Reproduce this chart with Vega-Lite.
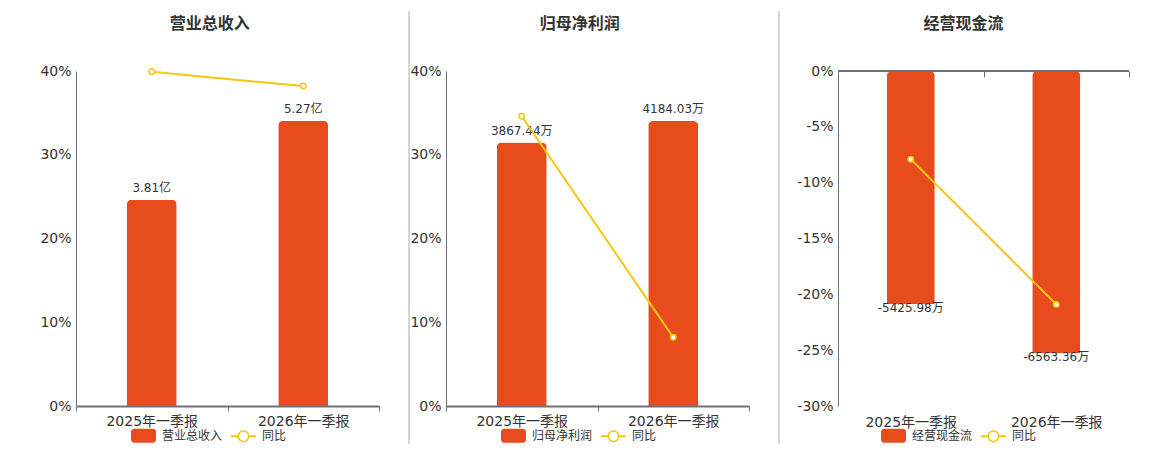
{
  "$schema": "https://vega.github.io/schema/vega-lite/v6.json",
  "background": "white",
  "padding": {"left": 39, "top": 10, "right": 0, "bottom": 0},
  "spacing": 0,
  "bounds": "flush",
  "datasets": {
    "rev": [
      {"period": "2025年一季报", "value": 3.81, "label": "3.81亿", "yoy": 39.9},
      {"period": "2026年一季报", "value": 5.27, "label": "5.27亿", "yoy": 38.2}
    ],
    "np": [
      {"period": "2025年一季报", "value": 3867.44, "label": "3867.44万", "yoy": 34.6},
      {"period": "2026年一季报", "value": 4184.03, "label": "4184.03万", "yoy": 8.2}
    ],
    "cf": [
      {"period": "2025年一季报", "value": -5425.98, "label": "-5425.98万", "yoy": -7.9},
      {"period": "2026年一季报", "value": -6563.36, "label": "-6563.36万", "yoy": -20.9}
    ],
    "sep": [{"name": "divider"}]
  },
  "hconcat": [
    {
      "width": 303,
      "height": 335,
      "title": {"text": "营业总收入"},
      "data": {"name": "rev"},
      "layer": [
        {
          "mark": {"type": "bar", "width": {"band": 0.33}, "cornerRadiusEnd": 5},
          "encoding": {
            "x": {"field": "period", "type": "nominal", "sort": null, "scale": {"paddingInner": 0, "paddingOuter": 0}, "axis": {"domainWidth": 2, "ticks": true}},
            "y": {"field": "value", "type": "quantitative", "scale": {"domain": [0, 6.19]}, "axis": null},
            "color": {
              "datum": "营业总收入", "type": "nominal",
              "scale": {"domain": ["营业总收入", "同比"], "range": ["#E84C1D", "#F5C710"]},
              "legend": {
                "orient": "none", "legendX": 55, "legendY": 352, "symbolSize": 625, "columnPadding": 8, "labelOffset": 6,
                "encode": {
                  "symbols": {
                    "update": {
                      "shape": {"signal": "datum.value === '同比' ? 'M-1,-0.08H-0.46V0.08H-1ZM0.46,-0.08H1V0.08H0.46ZM0.48,0A0.48,0.48,0,1,1,-0.48,0A0.48,0.48,0,1,1,0.48,0ZM0.36,0A0.36,0.36,0,1,0,-0.36,0A0.36,0.36,0,1,0,0.36,0Z' : 'M-0.76,-0.56H0.76A0.24,0.24,0,0,1,1,-0.32V0.32A0.24,0.24,0,0,1,0.76,0.56H-0.76A0.24,0.24,0,0,1,-1,0.32V-0.32A0.24,0.24,0,0,1,-0.76,-0.56Z'"},
                      "fillOpacity": {"value": 1},
                      "strokeWidth": {"value": 0},
                      "opacity": {"value": 1}
                    }
                  }
                }
              }
            }
          }
        },
        {
          "mark": {"type": "text", "baseline": "bottom", "dy": -5, "fontSize": 12, "color": "#333333"},
          "encoding": {
            "x": {"field": "period", "type": "nominal", "sort": null},
            "y": {"field": "value", "type": "quantitative", "scale": {"domain": [0, 6.19]}, "axis": null},
            "text": {"field": "label"}
          }
        },
        {
          "mark": {"type": "line", "strokeWidth": 2, "point": {"filled": false, "fill": "white", "size": 30, "strokeWidth": 1.5}},
          "encoding": {
            "x": {"field": "period", "type": "nominal", "sort": null},
            "y": {"field": "yoy", "type": "quantitative", "scale": {"domain": [0, 40]}, "axis": {"values": [0, 10, 20, 30, 40], "labelExpr": "datum.value + '%'"}},
            "color": {"datum": "同比", "type": "nominal"}
          }
        }
      ],
      "resolve": {"scale": {"y": "independent"}}
    },
    {
      "width": 67,
      "height": 335,
      "data": {"name": "sep"},
      "mark": {"type": "rule", "color": "#AAAAAA", "strokeWidth": 1},
      "encoding": {
        "x": {"datum": 0.448, "type": "quantitative", "scale": {"domain": [0, 1]}, "axis": null},
        "y": {"datum": 1.179, "type": "quantitative", "scale": {"domain": [0, 1]}, "axis": null},
        "y2": {"datum": -0.113}
      }
    },
    {
      "width": 303,
      "height": 335,
      "title": {"text": "归母净利润"},
      "data": {"name": "np"},
      "layer": [
        {
          "mark": {"type": "bar", "width": {"band": 0.33}, "cornerRadiusEnd": 5},
          "encoding": {
            "x": {"field": "period", "type": "nominal", "sort": null, "scale": {"paddingInner": 0, "paddingOuter": 0}, "axis": {"domainWidth": 2, "ticks": true}},
            "y": {"field": "value", "type": "quantitative", "scale": {"domain": [0, 4919]}, "axis": null},
            "color": {
              "datum": "归母净利润", "type": "nominal",
              "scale": {"domain": ["归母净利润", "同比"], "range": ["#E84C1D", "#F5C710"]},
              "legend": {
                "orient": "none", "legendX": 55, "legendY": 352, "symbolSize": 625, "columnPadding": 8, "labelOffset": 6,
                "encode": {
                  "symbols": {
                    "update": {
                      "shape": {"signal": "datum.value === '同比' ? 'M-1,-0.08H-0.46V0.08H-1ZM0.46,-0.08H1V0.08H0.46ZM0.48,0A0.48,0.48,0,1,1,-0.48,0A0.48,0.48,0,1,1,0.48,0ZM0.36,0A0.36,0.36,0,1,0,-0.36,0A0.36,0.36,0,1,0,0.36,0Z' : 'M-0.76,-0.56H0.76A0.24,0.24,0,0,1,1,-0.32V0.32A0.24,0.24,0,0,1,0.76,0.56H-0.76A0.24,0.24,0,0,1,-1,0.32V-0.32A0.24,0.24,0,0,1,-0.76,-0.56Z'"},
                      "fillOpacity": {"value": 1},
                      "strokeWidth": {"value": 0},
                      "opacity": {"value": 1}
                    }
                  }
                }
              }
            }
          }
        },
        {
          "mark": {"type": "text", "baseline": "bottom", "dy": -5, "fontSize": 12, "color": "#333333"},
          "encoding": {
            "x": {"field": "period", "type": "nominal", "sort": null},
            "y": {"field": "value", "type": "quantitative", "scale": {"domain": [0, 4919]}, "axis": null},
            "text": {"field": "label"}
          }
        },
        {
          "mark": {"type": "line", "strokeWidth": 2, "point": {"filled": false, "fill": "white", "size": 30, "strokeWidth": 1.5}},
          "encoding": {
            "x": {"field": "period", "type": "nominal", "sort": null},
            "y": {"field": "yoy", "type": "quantitative", "scale": {"domain": [0, 40]}, "axis": {"values": [0, 10, 20, 30, 40], "labelExpr": "datum.value + '%'"}},
            "color": {"datum": "同比", "type": "nominal"}
          }
        }
      ],
      "resolve": {"scale": {"y": "independent"}}
    },
    {
      "width": 89,
      "height": 335,
      "data": {"name": "sep"},
      "mark": {"type": "rule", "color": "#AAAAAA", "strokeWidth": 1},
      "encoding": {
        "x": {"datum": 0.337, "type": "quantitative", "scale": {"domain": [0, 1]}, "axis": null},
        "y": {"datum": 1.179, "type": "quantitative", "scale": {"domain": [0, 1]}, "axis": null},
        "y2": {"datum": -0.113}
      }
    },
    {
      "width": 291,
      "height": 335,
      "title": {"text": "经营现金流"},
      "data": {"name": "cf"},
      "layer": [
        {
          "mark": {"type": "bar", "width": {"band": 0.33}, "cornerRadiusEnd": 5},
          "encoding": {
            "x": {"field": "period", "type": "nominal", "sort": null, "scale": {"paddingInner": 0, "paddingOuter": 0}, "axis": {"orient": "bottom", "domain": false, "ticks": false, "labelPadding": 9}},
            "y": {"field": "value", "type": "quantitative", "scale": {"domain": [-7800, 0]}, "axis": null},
            "color": {
              "datum": "经营现金流", "type": "nominal",
              "scale": {"domain": ["经营现金流", "同比"], "range": ["#E84C1D", "#F5C710"]},
              "legend": {
                "orient": "none", "legendX": 43, "legendY": 352, "symbolSize": 625, "columnPadding": 8, "labelOffset": 6,
                "encode": {
                  "symbols": {
                    "update": {
                      "shape": {"signal": "datum.value === '同比' ? 'M-1,-0.08H-0.46V0.08H-1ZM0.46,-0.08H1V0.08H0.46ZM0.48,0A0.48,0.48,0,1,1,-0.48,0A0.48,0.48,0,1,1,0.48,0ZM0.36,0A0.36,0.36,0,1,0,-0.36,0A0.36,0.36,0,1,0,0.36,0Z' : 'M-0.76,-0.56H0.76A0.24,0.24,0,0,1,1,-0.32V0.32A0.24,0.24,0,0,1,0.76,0.56H-0.76A0.24,0.24,0,0,1,-1,0.32V-0.32A0.24,0.24,0,0,1,-0.76,-0.56Z'"},
                      "fillOpacity": {"value": 1},
                      "strokeWidth": {"value": 0},
                      "opacity": {"value": 1}
                    }
                  }
                }
              }
            }
          }
        },
        {
          "mark": {"type": "text", "baseline": "top", "dy": -1, "fontSize": 12, "color": "#333333"},
          "encoding": {
            "x": {"field": "period", "type": "nominal", "sort": null, "axis": null},
            "y": {"field": "value", "type": "quantitative", "scale": {"domain": [-7800, 0]}, "axis": null},
            "text": {"field": "label"}
          }
        },
        {
          "mark": {"type": "rule", "color": "#6E7079", "strokeWidth": 2},
          "encoding": {
            "y": {"datum": 0, "type": "quantitative", "scale": {"domain": [-30, 0]}, "axis": null}
          }
        },
        {
          "mark": {"type": "line", "strokeWidth": 2, "point": {"filled": false, "fill": "white", "size": 30, "strokeWidth": 1.5}},
          "encoding": {
            "x": {"field": "period", "type": "nominal", "sort": null, "axis": {"orient": "top", "labels": false, "domain": false, "ticks": true, "tickSize": -6}},
            "y": {"field": "yoy", "type": "quantitative", "scale": {"domain": [-30, 0]}, "axis": {"values": [0, -5, -10, -15, -20, -25, -30], "labelExpr": "datum.value + '%'"}},
            "color": {"datum": "同比", "type": "nominal"}
          }
        }
      ],
      "resolve": {"scale": {"y": "independent"}, "axis": {"x": "independent"}}
    }
  ],
  "resolve": {
    "scale": {"x": "independent", "y": "independent", "color": "independent"},
    "legend": {"color": "independent"}
  },
  "config": {
    "font": "DejaVu Sans, Noto Sans CJK SC",
    "view": {"stroke": null},
    "title": {"fontSize": 16, "fontWeight": "bold", "color": "#333333", "offset": 32, "anchor": "middle", "frame": "bounds"},
    "axis": {
      "title": null,
      "labelFontSize": 14,
      "labelColor": "#333333",
      "domainColor": "#6E7079",
      "tickColor": "#6E7079",
      "gridColor": "#E0E6F1",
      "gridWidth": 1
    },
    "axisX": {"labelAngle": 0, "tickBand": "extent", "tickSize": 5, "labelPadding": 3, "grid": false},
    "axisY": {"ticks": false, "labelPadding": 5, "grid": true, "domainWidth": 1},
    "legend": {
      "direction": "horizontal",
      "title": null,
      "labelFontSize": 12,
      "labelColor": "#333333"
    }
  }
}
